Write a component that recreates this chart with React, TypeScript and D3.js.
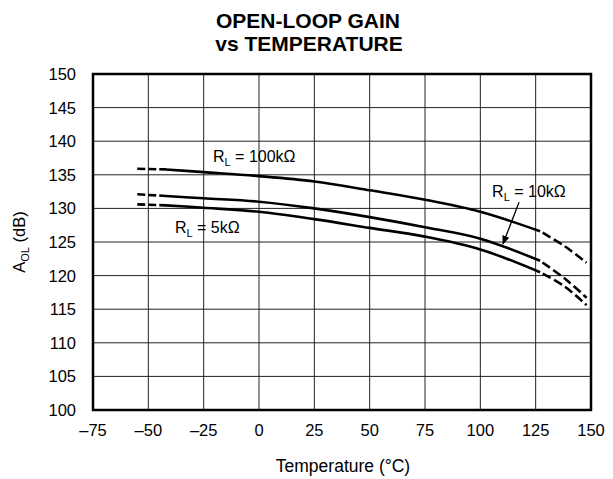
import React from 'react';
import * as d3 from 'd3';

const xTicks = [-75, -50, -25, 0, 25, 50, 75, 100, 125, 150];
const yTicks = [100, 105, 110, 115, 120, 125, 130, 135, 140, 145, 150];

// Solid (specified) range
const temps = [-42, -25, 0, 25, 50, 75, 100, 127];
const gain100k = [135.8, 135.4, 134.8, 134.0, 132.7, 131.3, 129.5, 126.6];
const gain10k = [131.85, 131.5, 131.0, 130.0, 128.7, 127.2, 125.5, 122.2];
const gain5k = [130.45, 130.1, 129.5, 128.4, 127.1, 125.8, 123.9, 120.5];

// Dashed extensions
const tempsLow = [-55, -42];
const low100k = [135.9, 135.8];
const low10k = [132.1, 131.85];
const low5k = [130.6, 130.45];

const tempsHigh = [127, 138, 148];
const high100k = [126.6, 124.4, 121.9];
const high10k = [122.2, 119.6, 116.7];
const high5k = [120.5, 118.4, 115.6];

const W = 613;
const H = 479;
const M = { left: 93, right: 591, top: 74, bottom: 410 };
const FONT = '"Liberation Sans", Arial, Helvetica, sans-serif';

export default function App() {
  const x = d3.scaleLinear().domain([-75, 150]).range([M.left, M.right]);
  const y = d3.scaleLinear().domain([100, 150]).range([M.bottom, M.top]);
  const line = d3
    .line<[number, number]>()
    .x((d) => x(d[0]))
    .y((d) => y(d[1]))
    .curve(d3.curveCatmullRom.alpha(0.5));
  const pts = (t: number[], v: number[]) => t.map((tt, i) => [tt, v[i]] as [number, number]);

  const solid = [gain100k, gain10k, gain5k];
  const lows = [low100k, low10k, low5k];
  const highs = [high100k, high10k, high5k];

  const sub = (main: string, rest: string, tx: number, ty: number) => (
    <text x={x(tx)} y={y(ty)} fontFamily={FONT} fontSize={16} fill="#000">
      {main}
      <tspan fontSize={11} dy={4}>L</tspan>
      <tspan dy={-4}>{rest}</tspan>
    </text>
  );

  // annotation arrow (data coords)
  const arrowFrom: [number, number] = [117.5, 130.9];
  const arrowTo: [number, number] = [110.2, 124.7];

  return (
    <svg width={W} height={H} style={{ position: 'absolute', left: 0, top: 0, background: '#fff' }}>
      <defs>
        <marker id="ah" viewBox="0 0 10 10" refX="9" refY="5" markerWidth="7" markerHeight="7" orient="auto">
          <path d="M0,1 L10,5 L0,9 Z" fill="#000" />
        </marker>
      </defs>
      <rect x={0} y={0} width={W} height={H} fill="#fff" />
      <text x={308} y={28} textAnchor="middle" fontFamily={FONT} fontWeight="bold" fontSize={21} fill="#000">
        OPEN-LOOP GAIN
      </text>
      <text x={309} y={51} textAnchor="middle" fontFamily={FONT} fontWeight="bold" fontSize={21} fill="#000">
        vs TEMPERATURE
      </text>

      {/* grid */}
      {xTicks.map((t) => (
        <line key={'gx' + t} x1={x(t)} x2={x(t)} y1={M.top} y2={M.bottom} stroke="#222" strokeWidth={1} />
      ))}
      {yTicks.map((t) => (
        <line key={'gy' + t} x1={M.left} x2={M.right} y1={y(t)} y2={y(t)} stroke="#222" strokeWidth={1} />
      ))}
      <rect x={M.left} y={M.top} width={M.right - M.left} height={M.bottom - M.top} fill="none" stroke="#000" strokeWidth={2.5} />

      {/* tick labels */}
      {yTicks.map((t) => (
        <text key={'ly' + t} x={76} y={y(t) + 6} textAnchor="end" fontFamily={FONT} fontSize={16.5} fill="#000">
          {t}
        </text>
      ))}
      {xTicks.map((t) => (
        <text key={'lx' + t} x={x(t)} y={436} textAnchor="middle" fontFamily={FONT} fontSize={16.5} fill="#000">
          {t < 0 ? '\u2013' + Math.abs(t) : t}
        </text>
      ))}

      <text x={343} y={472} textAnchor="middle" fontFamily={FONT} fontSize={17.5} fill="#000">
        Temperature (°C)
      </text>
      <text transform={`translate(25,${y(125)}) rotate(-90)`} textAnchor="middle" fontFamily={FONT} fontSize={16.5} fill="#000">
        A<tspan fontSize={11} dy={4}>OL</tspan>
        <tspan dy={-4}> (dB)</tspan>
      </text>

      {/* curves */}
      {solid.map((v, i) => (
        <path key={'s' + i} d={line(pts(temps, v)) || ''} fill="none" stroke="#000" strokeWidth={2.6} />
      ))}
      {lows.map((v, i) => (
        <path key={'l' + i} d={line(pts(tempsLow, v)) || ''} fill="none" stroke="#000" strokeWidth={2.6} strokeDasharray="8,3" />
      ))}
      {highs.map((v, i) => (
        <path key={'h' + i} d={line(pts(tempsHigh, v)) || ''} fill="none" stroke="#000" strokeWidth={2.6} strokeDasharray="9,4" strokeDashoffset={-3} />
      ))}

      {/* labels */}
      {sub('R', ' = 100kΩ', -20.8, 136.9)}
      {sub('R', ' = 5kΩ', -38, 126.4)}
      {sub('R', ' = 10kΩ', 105.3, 131.7)}
      <line
        x1={x(arrowFrom[0])}
        y1={y(arrowFrom[1])}
        x2={x(arrowTo[0])}
        y2={y(arrowTo[1])}
        stroke="#000"
        strokeWidth={1.3}
        markerEnd="url(#ah)"
      />
    </svg>
  );
}
